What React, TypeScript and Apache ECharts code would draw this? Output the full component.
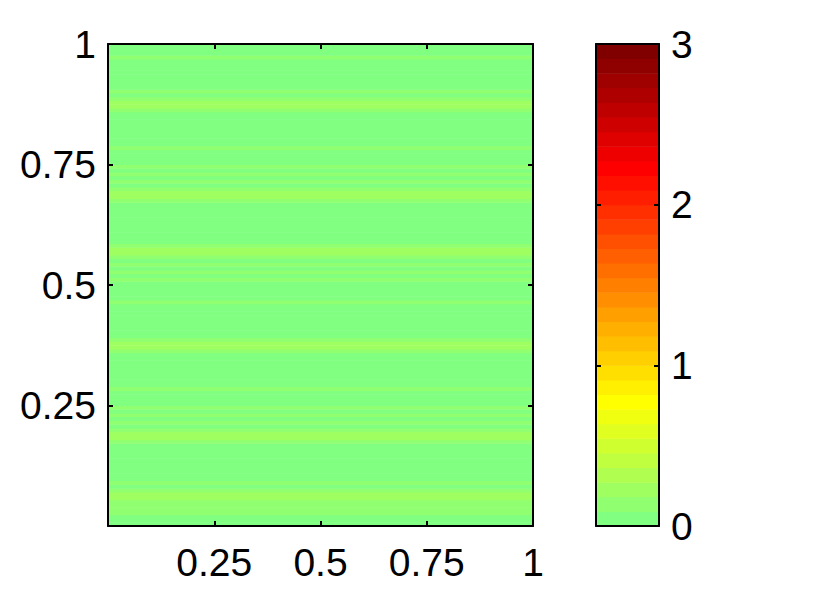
import React, { useEffect, useRef } from 'react';
import * as echarts from 'echarts';

// Row values of the image (row 0 = bottom, y from 0 to 1); each row is constant across x
const ROW_COUNT = 128;
const ROW_VALUES = [
  0.03, 0.04, 0.05, 0.12, 0.11, 0.13, 0.10, 0.22, 0.24, 0.14, 0.06, 0.11, 0.04, 0.03, 0.02, 0.03,
  0.04, 0.03, 0.05, 0.04, 0.06, 0.07, 0.12, 0.21, 0.23, 0.13, 0.05, 0.11, 0.06, 0.12, 0.07, 0.13,
  0.05, 0.04, 0.03, 0.06, 0.10, 0.05, 0.03, 0.02, 0.03, 0.04, 0.03, 0.05, 0.06, 0.07, 0.12, 0.22,
  0.20, 0.11, 0.05, 0.03, 0.02, 0.03, 0.04, 0.03, 0.02, 0.04, 0.06, 0.10, 0.05, 0.03, 0.04, 0.06,
  0.08, 0.12, 0.07, 0.11, 0.06, 0.13, 0.08, 0.14, 0.23, 0.21, 0.12, 0.06, 0.04, 0.03, 0.02, 0.03,
  0.04, 0.03, 0.03, 0.02, 0.04, 0.07, 0.13, 0.20, 0.22, 0.12, 0.07, 0.11, 0.06, 0.10, 0.05, 0.11,
  0.06, 0.04, 0.03, 0.05, 0.10, 0.04, 0.03, 0.02, 0.03, 0.02, 0.03, 0.04, 0.05, 0.07, 0.13, 0.22,
  0.25, 0.14, 0.07, 0.11, 0.05, 0.03, 0.02, 0.03, 0.02, 0.03, 0.04, 0.03, 0.10, 0.05, 0.03, 0.02,
];

const AXIS_TICKS = [0, 0.25, 0.5, 0.75, 1];
const COLORBAR_TICKS = [0, 1, 2, 3];
const COLOR_MIN = 0;
const COLOR_MAX = 3;

const COLORMAP = [
  '#80FF80', '#90FF70', '#A0FF60', '#B0FF50', '#C0FF40', '#D0FF30', '#E0FF20', '#F0FF10',
  '#FFFF00', '#FFEF00', '#FFDF00', '#FFCF00', '#FFBF00', '#FFAF00', '#FF9F00', '#FF8F00',
  '#FF7F00', '#FF6F00', '#FF5F00', '#FF4F00', '#FF3F00', '#FF2F00', '#FF1F00', '#FF0F00',
  '#FF0000', '#EF0000', '#DF0000', '#CF0000', '#BF0000', '#AF0000', '#9F0000', '#8F0000',
  '#800000',
];

const FONT = 'Liberation Sans, Arial, Helvetica, sans-serif';
const FONT_SIZE = 39;

export default function App() {
  const ref = useRef<HTMLDivElement>(null);

  useEffect(() => {
    if (!ref.current) return;
    const chart = echarts.init(ref.current, undefined, { renderer: 'svg' });
    const step = (COLOR_MAX - COLOR_MIN) / COLORMAP.length;
    const tickInterval = AXIS_TICKS[1] - AXIS_TICKS[0];
    const cbInterval = COLORBAR_TICKS[1] - COLORBAR_TICKS[0];

    const lineStyle = { color: '#000', width: 2 };
    const label = (show: boolean) => ({
      show,
      color: '#000',
      fontSize: FONT_SIZE,
      fontFamily: FONT,
      showMinLabel: true,
      showMaxLabel: true,
      formatter: (v: number) => (v === 0 ? '' : String(v)),
    });

    const mainAxis = (position: string, showLabel: boolean, margin: number) => ({
      gridIndex: 0,
      type: 'value',
      min: AXIS_TICKS[0],
      max: AXIS_TICKS[AXIS_TICKS.length - 1],
      interval: tickInterval,
      position,
      z: 10,
      axisLine: { show: true, onZero: false, lineStyle },
      axisTick: { show: true, inside: true, length: 5, lineStyle },
      axisLabel: { ...label(showLabel), margin },
      splitLine: { show: false },
    });

    const cbXAxis = (position: string) => ({
      gridIndex: 1,
      type: 'value',
      min: 0,
      max: 1,
      position,
      z: 10,
      axisLine: { show: true, onZero: false, lineStyle },
      axisTick: { show: false },
      axisLabel: { show: false },
      splitLine: { show: false },
    });

    const cbYAxis = (position: string, showLabel: boolean) => ({
      gridIndex: 1,
      type: 'value',
      min: COLOR_MIN,
      max: COLOR_MAX,
      interval: cbInterval,
      position,
      z: 10,
      axisLine: { show: true, onZero: false, lineStyle },
      axisTick: { show: true, inside: true, length: 5, lineStyle },
      axisLabel: {
        show: showLabel,
        color: '#000',
        fontSize: FONT_SIZE,
        fontFamily: FONT,
        margin: 12,
        showMinLabel: true,
        showMaxLabel: true,
      },
      splitLine: { show: false },
    });

    const option: any = {
      animation: false,
      backgroundColor: '#ffffff',
      visualMap: {
        type: 'piecewise',
        show: false,
        dimension: 1,
        seriesIndex: [0, 1],
        pieces: COLORMAP.map((c, k) =>
          k === COLORMAP.length - 1
            ? { gte: COLOR_MIN + k * step, lte: COLOR_MAX, color: c }
            : { gte: COLOR_MIN + k * step, lt: COLOR_MIN + (k + 1) * step, color: c }
        ),
      },
      grid: [
        { left: 108, top: 44, width: 425, height: 482 },
        { left: 596, top: 44, width: 63, height: 482 },
      ],
      xAxis: [
        mainAxis('bottom', true, 17),
        mainAxis('top', false, 8),
        cbXAxis('bottom'),
        cbXAxis('top'),
      ],
      yAxis: [
        mainAxis('left', true, 12),
        mainAxis('right', false, 8),
        cbYAxis('right', true),
        cbYAxis('left', false),
      ],
      series: [
        {
          type: 'custom',
          xAxisIndex: 0,
          yAxisIndex: 0,
          clip: true,
          data: ROW_VALUES.map((v, i) => [i, v]),
          renderItem: (params: any, api: any) => {
            const i = api.value(0) as number;
            const tl = api.coord([AXIS_TICKS[0], (i + 1) / ROW_COUNT]);
            const br = api.coord([AXIS_TICKS[AXIS_TICKS.length - 1], i / ROW_COUNT]);
            return {
              type: 'rect',
              shape: { x: tl[0], y: tl[1], width: br[0] - tl[0], height: br[1] - tl[1] + 0.5 },
              style: { fill: api.visual('color') },
            };
          },
        },
        {
          type: 'custom',
          xAxisIndex: 2,
          yAxisIndex: 2,
          data: COLORMAP.map((_, k) => [k, COLOR_MIN + (k + 0.5) * step]),
          renderItem: (params: any, api: any) => {
            const k = api.value(0) as number;
            const tl = api.coord([0, COLOR_MIN + (k + 1) * step]);
            const br = api.coord([1, COLOR_MIN + k * step]);
            return {
              type: 'rect',
              shape: { x: tl[0], y: tl[1], width: br[0] - tl[0], height: br[1] - tl[1] + 0.5 },
              style: { fill: api.visual('color') },
            };
          },
        },
      ],
    };

    chart.setOption(option);
    return () => chart.dispose();
  }, []);

  return (
    <div
      ref={ref}
      style={{ position: 'fixed', left: 0, top: 0, width: 828, height: 591, background: '#fff' }}
    />
  );
}
